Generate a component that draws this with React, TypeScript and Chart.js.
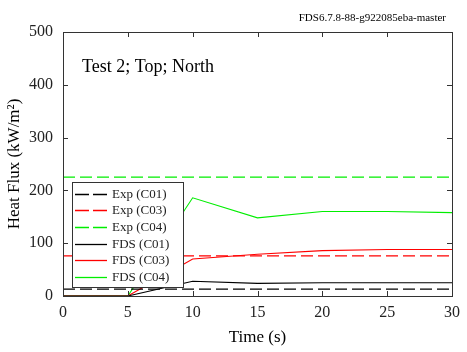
import React, { useEffect, useRef } from "react";
import { Chart, registerables } from "chart.js";

Chart.register(...registerables);

const time = [0, 5, 10, 15, 20, 25, 30];
const fdsC01 = [0, 0, 28, 24, 25, 25, 25];
const fdsC03 = [0, 0, 70, 79, 86, 88, 88];
const fdsC04 = [0, 0, 186, 148, 160, 160, 158];
const expTime = [0, 30];
const expC01 = [13, 13];
const expC03 = [76, 76];
const expC04 = [225, 225];
const xTicks = [0, 5, 10, 15, 20, 25, 30];
const yTicks = [0, 100, 200, 300, 400, 500];

const BLACK = "#000000";
const RED = "#ff0000";
const GREEN = "#00ee00";
const FONT = "'Liberation Serif', 'Times New Roman', serif";

const pts = (xs: number[], ys: number[]) => xs.map((x, i) => ({ x, y: ys[i] }));

const frameAndLegend = {
  id: "frameAndLegend",
  afterDatasetsDraw(chart: any) {
    const { ctx, chartArea } = chart;
    const { left, right, top, bottom } = chartArea;
    const xs = chart.scales.x;
    const ys = chart.scales.y;
    ctx.save();
    ctx.strokeStyle = "#333";
    ctx.lineWidth = 1;
    ctx.setLineDash([]);
    const tl = 5;
    ctx.beginPath();
    xTicks.forEach((t) => {
      const px = Math.round(xs.getPixelForValue(t)) + 0.5;
      ctx.moveTo(px, bottom);
      ctx.lineTo(px, bottom - tl);
      ctx.moveTo(px, top);
      ctx.lineTo(px, top + tl);
    });
    yTicks.forEach((t) => {
      const py = Math.round(ys.getPixelForValue(t)) + 0.5;
      ctx.moveTo(left, py);
      ctx.lineTo(left + tl, py);
      ctx.moveTo(right, py);
      ctx.lineTo(right - tl, py);
    });
    ctx.stroke();
    ctx.strokeRect(Math.round(left) + 0.5, Math.round(top) + 0.5, Math.round(right - left), Math.round(bottom - top));

    // legend box
    const bx = 72.5, by = 182.5, bw = 111, bh = 105;
    ctx.fillStyle = "#ffffff";
    ctx.fillRect(bx, by, bw, bh);
    ctx.strokeStyle = "#333";
    ctx.strokeRect(bx, by, bw, bh);
    const rowY0 = 193.5;
    const rowH = 16.7;
    ctx.font = `13px ${FONT}`;
    ctx.textBaseline = "middle";
    ctx.textAlign = "left";
    chart.data.datasets.forEach((ds: any, i: number) => {
      const y = Math.round(rowY0 + i * rowH) + 0.5;
      ctx.strokeStyle = ds.borderColor;
      ctx.lineWidth = 1.3;
      ctx.setLineDash(ds.borderDash ? [14, 4] : []);
      ctx.beginPath();
      ctx.moveTo(75, y);
      ctx.lineTo(107, y);
      ctx.stroke();
      ctx.setLineDash([]);
      ctx.fillStyle = "#222";
      ctx.fillText(ds.label, 112, y);
    });

    // annotations
    ctx.font = `18px ${FONT}`;
    ctx.fillStyle = "#000";
    ctx.textBaseline = "alphabetic";
    ctx.fillText("Test 2; Top; North", 82, 72);
    ctx.font = `11px ${FONT}`;
    ctx.textAlign = "right";
    ctx.fillText("FDS6.7.8-88-g922085eba-master", 446, 21);
    ctx.restore();
  },
};

export default function App() {
  const ref = useRef<HTMLCanvasElement>(null);
  useEffect(() => {
    if (!ref.current) return;
    const dash = [12, 5];
    const chart = new Chart(ref.current, {
      type: "line",
      data: {
        datasets: [
          { label: "Exp (C01)", data: pts(expTime, expC01), borderColor: BLACK, borderDash: dash, borderWidth: 1.3 },
          { label: "Exp (C03)", data: pts(expTime, expC03), borderColor: RED, borderDash: dash, borderWidth: 1.3 },
          { label: "Exp (C04)", data: pts(expTime, expC04), borderColor: GREEN, borderDash: dash, borderWidth: 1.3 },
          { label: "FDS (C01)", data: pts(time, fdsC01), borderColor: BLACK, borderWidth: 1.1 },
          { label: "FDS (C03)", data: pts(time, fdsC03), borderColor: RED, borderWidth: 1.1 },
          { label: "FDS (C04)", data: pts(time, fdsC04), borderColor: GREEN, borderWidth: 1.1 },
        ].map((d) => ({ ...d, pointRadius: 0, fill: false, tension: 0 })) as any,
      },
      options: {
        animation: false,
        responsive: false,
        maintainAspectRatio: false,
        layout: { padding: { left: 0, top: 32, right: 12, bottom: 0 } },
        plugins: { legend: { display: false }, tooltip: { enabled: false }, title: { display: false } },
        scales: {
          x: {
            type: "linear",
            min: 0,
            max: 30,
            afterBuildTicks: (s: any) => { s.ticks = xTicks.map((v) => ({ value: v })); },
            afterFit: (s: any) => { s.height = 56; },
            grid: { display: false, drawTicks: false },
            border: { display: false },
            ticks: { color: "#222", font: { family: FONT, size: 16 }, padding: 7, maxRotation: 0 },
            title: { display: true, text: "Time (s)", color: "#000", font: { family: FONT, size: 17 }, padding: { top: 4 } },
          },
          y: {
            type: "linear",
            min: 0,
            max: 500,
            afterBuildTicks: (s: any) => { s.ticks = yTicks.map((v) => ({ value: v })); },
            afterFit: (s: any) => { s.width = 63; },
            grid: { display: false, drawTicks: false },
            border: { display: false },
            ticks: { color: "#222", font: { family: FONT, size: 16 }, padding: 10 },
            title: { display: true, text: "Heat Flux (kW/m²)", color: "#000", font: { family: FONT, size: 17 }, padding: { bottom: 0 } },
          },
        },
      },
      plugins: [frameAndLegend],
    });
    return () => chart.destroy();
  }, []);
  return (
    <div style={{ position: "fixed", left: 0, top: 0, width: 467, height: 352, background: "#fff" }}>
      <canvas ref={ref} width={467} height={352} style={{ width: 467, height: 352 }} />
    </div>
  );
}
